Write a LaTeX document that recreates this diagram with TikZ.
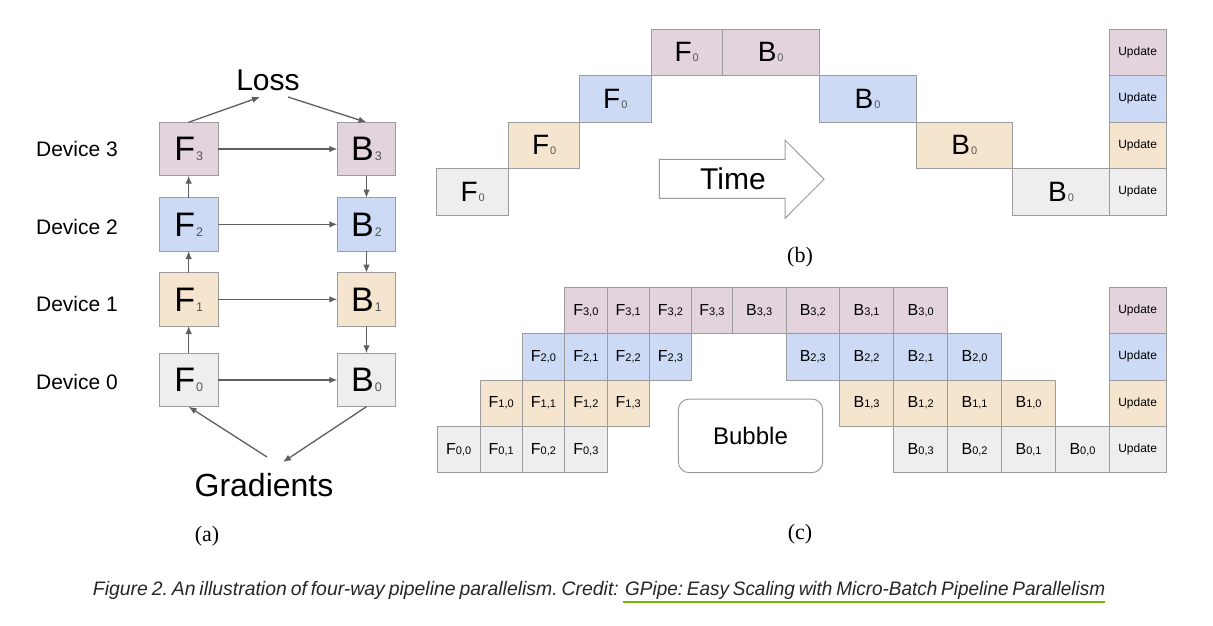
\documentclass[tikz,border=0pt]{standalone}
\usepackage{fontspec}
\setmainfont{Liberation Sans}
\newfontfamily\serfont{Liberation Serif}
\usetikzlibrary{arrows.meta}
\definecolor{col3}{HTML}{E2D3DD}
\definecolor{col2}{HTML}{CCDAF6}
\definecolor{col1}{HTML}{F6E5CE}
\definecolor{col0}{HTML}{EEEEEE}
\definecolor{bord}{HTML}{9C9C9C}
\definecolor{arrc}{HTML}{5E5E5E}
\definecolor{subc}{HTML}{555555}
\definecolor{capc}{HTML}{262626}
\definecolor{nvgreen}{HTML}{76B900}
\newcommand\La[2]{{\fontsize{34}{34}\selectfont #1}\kern1pt{\fontsize{12.5}{12.5}\selectfont\color{subc}#2}}
\newcommand\Lb[2]{{\fontsize{28}{28}\selectfont #1}\kern1pt{\fontsize{11}{11}\selectfont\color{subc}#2}}
\newcommand\Lc[2]{{\fontsize{16}{16}\selectfont #1}{\fontsize{11}{11}\selectfont #2}}
\newcommand\Upd{{\fontsize{12}{12}\selectfont Update}}
\newcommand\captxt[1]{\frenchspacing\itshape\fontsize{19.5}{19.5}\selectfont\spaceskip=0.2em plus 0.05em\relax #1}
\newcommand\cellbox[7]{%
  \pgfmathsetmacro\cbw{#4-#2}%
  \pgfmathsetmacro\cbh{#5-#3}%
  \pgfmathsetmacro\cbx{(#2+#4)/2}%
  \pgfmathsetmacro\cby{(#3+#5)/2}%
  \node[cell,fill=#6,minimum width=\cbw pt,minimum height=\cbh pt] (#1) at (\cbx,\cby) {#7};}
\begin{document}
\begin{tikzpicture}[x=1pt,y=-1pt,
  cell/.style={draw=bord,line width=0.8pt,inner sep=0pt,outer sep=0pt,text=black},
  arr/.style={draw=arrc,line width=1.3pt,-{Latex[length=8pt,width=6.5pt]}},
  devlab/.style={inner sep=0pt,font=\fontsize{21}{21}\selectfont},
  sublab/.style={inner sep=0pt,font=\serfont\fontsize{22}{22}\selectfont}]
\fill[white] (0,0) rectangle (1213,626);
\useasboundingbox (0,0) rectangle (1213,626);
% ---------------- (a) ----------------
\cellbox{F3}{159.3}{122.3}{218}{175.7}{col3}{\La{F}{3}}
\cellbox{F2}{159.3}{197.7}{218}{251}{col2}{\La{F}{2}}
\cellbox{F1}{159.3}{272.7}{218}{326}{col1}{\La{F}{1}}
\cellbox{F0}{159.3}{353.3}{218}{406.7}{col0}{\La{F}{0}}
\cellbox{B3}{337.3}{122.3}{395.7}{175.7}{col3}{\La{B}{3}}
\cellbox{B2}{337.3}{197.7}{395.7}{251}{col2}{\La{B}{2}}
\cellbox{B1}{337.3}{272.7}{395.7}{326}{col1}{\La{B}{1}}
\cellbox{B0}{337.3}{353.3}{395.7}{406.7}{col0}{\La{B}{0}}
\node[devlab] (d3) at (77,149) {Device 3};
\node[devlab] (d2) at (77,227) {Device 2};
\node[devlab] (d1) at (77,304) {Device 1};
\node[devlab] (d0) at (77,382) {Device 0};
\node[inner sep=0pt,anchor=base,font=\fontsize{30}{30}\selectfont] (loss) at (268,90) {Loss};
\node[inner sep=0pt,anchor=base,font=\fontsize{32}{32}\selectfont] (grad) at (264,496.7) {Gradients};
\coordinate (lossin) at (260,97);
\coordinate (lossout) at (288,97);
\coordinate (gradL) at (267,457);
\coordinate (gradR) at (283,462);
\draw[arr] (F3.north) -- (lossin);
\draw[arr] (lossout) -- (B3.north);
\draw[arr] (F3) -- (B3);
\draw[arr] (F2) -- (B2);
\draw[arr] (F1) -- (B1);
\draw[arr] (F0) -- (B0);
\draw[arr] (F0) -- (F1);
\draw[arr] (F1) -- (F2);
\draw[arr] (F2) -- (F3);
\draw[arr] (B3) -- (B2);
\draw[arr] (B2) -- (B1);
\draw[arr] (B1) -- (B0);
\draw[arr] (gradL) -- (F0.south);
\draw[arr] (B0.south) -- (gradR);
\node[sublab] (la) at (207,536) {(a)};
% ---------------- (b) ----------------
\cellbox{bF0}{436.7}{168.5}{508.7}{215}{col0}{\Lb{F}{0}}
\cellbox{bF1}{508.7}{122}{579.7}{168.5}{col1}{\Lb{F}{0}}
\cellbox{bF2}{579.7}{75.5}{651}{122}{col2}{\Lb{F}{0}}
\cellbox{bF3}{651}{29}{722.3}{75.5}{col3}{\Lb{F}{0}}
\cellbox{bB3}{722.3}{29}{819}{75.5}{col3}{\Lb{B}{0}}
\cellbox{bB2}{819}{75.5}{916}{122}{col2}{\Lb{B}{0}}
\cellbox{bB1}{916}{122}{1012.7}{168.5}{col1}{\Lb{B}{0}}
\cellbox{bB0}{1012.7}{168.5}{1109.3}{215}{col0}{\Lb{B}{0}}
\cellbox{bU3}{1109.3}{29}{1166}{75.5}{col3}{\Upd}
\cellbox{bU2}{1109.3}{75.5}{1166}{122}{col2}{\Upd}
\cellbox{bU1}{1109.3}{122}{1166}{168.5}{col1}{\Upd}
\cellbox{bU0}{1109.3}{168.5}{1166}{215}{col0}{\Upd}
\draw[draw=bord,line width=1pt,fill=white,line join=miter]
  (659.3,159.3) -- (785,159.3) -- (785,140) -- (824,179.2) -- (785,218.3)
  -- (785,198.3) -- (659.3,198.3) -- cycle;
\node[inner sep=0pt,font=\fontsize{30}{30}\selectfont] (time) at (733,179) {Time};
\node[sublab] (lb) at (800,257) {(b)};
% ---------------- (c) ----------------
\def\cxs{{437.3,480,522.3,564.7,607,649.3,691.7,732.3}}
\def\dxs{{732.3,786,839.5,893.7,947.7,1001.5,1055.7,1109.3}}
\def\cys{{472.7,426,380,333.3,287.3}}
\foreach \r in {0,...,3}{
  \foreach \j in {0,...,3}{
    \pgfmathsetmacro\xa{\cxs[\j+\r]}
    \pgfmathsetmacro\xb{\cxs[\j+\r+1]}
    \pgfmathsetmacro\ya{\cys[\r+1]}
    \pgfmathsetmacro\yb{\cys[\r]}
    \cellbox{cF\r\j}{\xa}{\ya}{\xb}{\yb}{col\r}{\Lc{F}{\r,\j}}
    \pgfmathtruncatemacro\k{6-\r-\j}
    \pgfmathsetmacro\xc{\dxs[\k]}
    \pgfmathsetmacro\xd{\dxs[\k+1]}
    \cellbox{cB\r\j}{\xc}{\ya}{\xd}{\yb}{col\r}{\Lc{B}{\r,\j}}
  }
  \pgfmathsetmacro\ya{\cys[\r+1]}
  \pgfmathsetmacro\yb{\cys[\r]}
  \cellbox{cU\r}{1109.3}{\ya}{1166}{\yb}{col\r}{\Upd}
}
\draw[draw=bord,line width=1pt,rounded corners=11pt] (678.3,399) rectangle (822.7,472.7);
\node[inner sep=0pt,font=\fontsize{24}{24}\selectfont] (bubble) at (750.5,436) {Bubble};
\node[sublab] (lc) at (800,534) {(c)};
% ---------------- caption ----------------
\node[anchor=base west,inner sep=0pt,text=capc] (cap1) at (92.7,595)
  {\resizebox{526pt}{\height}{\captxt{Figure 2. An illustration of four-way pipeline parallelism. Credit:}}};
\node[anchor=base west,inner sep=0pt,text=capc] (cap2) at (625,595)
  {\resizebox{480pt}{\height}{\captxt{GPipe: Easy Scaling with Micro-Batch Pipeline Parallelism}}};
\coordinate (ulA) at (623,602);
\coordinate (ulB) at (1105,602);
\draw[nvgreen,line width=2.6pt] (ulA) -- (ulB);
\end{tikzpicture}
\end{document}
